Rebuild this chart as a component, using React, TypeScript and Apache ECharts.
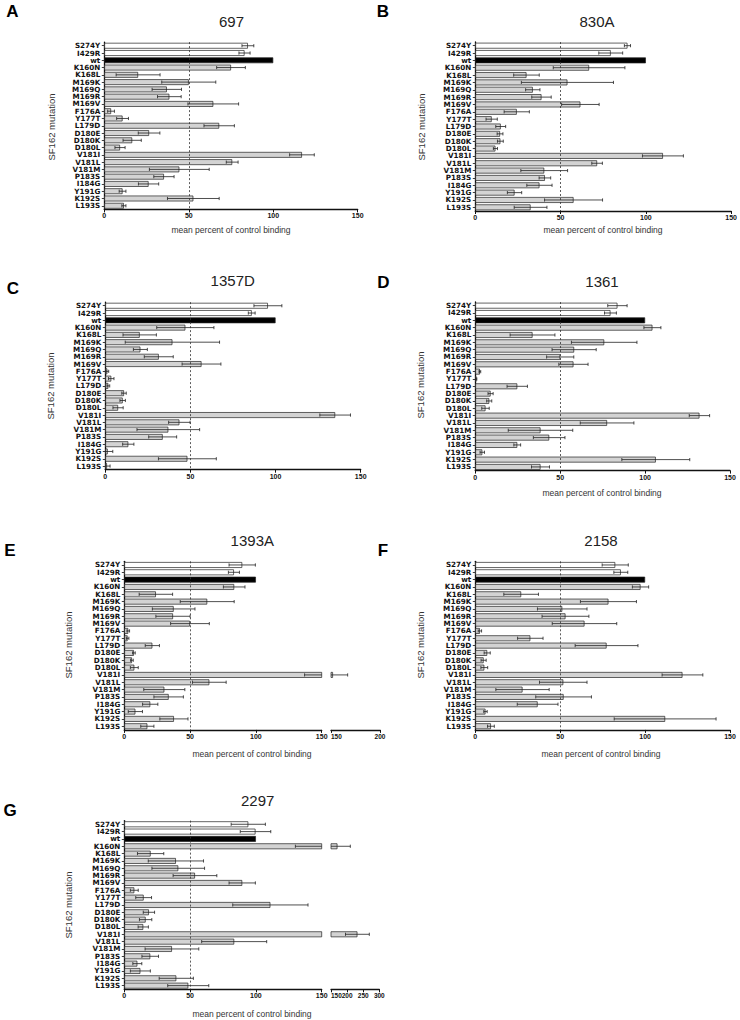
import React, { useEffect, useRef } from "react";
import * as echarts from "echarts";

const categories = [
  "S274Y", "I429R", "wt", "K160N", "K168L", "M169K", "M169Q", "M169R", "M169V",
  "F176A", "Y177T", "L179D", "D180E", "D180K", "D180L", "V181I", "V181L", "V181M",
  "P183S", "I184G", "Y191G", "K192S", "L193S",
];

const mean697 = [85, 83, 100, 75, 20, 50, 37, 38.5, 64.5, 4, 10.8, 68, 26.5, 16.5, 9.3, 117, 75.7, 44.4, 35.3, 26.2, 10.8, 52.7, 11.6];
const sd697 = [3.5, 3.3, 0, 8.5, 13, 16, 8.7, 7, 15, 2, 3.5, 9, 6.4, 5.4, 3, 7.3, 3.5, 17.7, 6, 6, 2, 15.3, 1.2];

const mean830A = [89.2, 79.4, 100, 66.7, 30, 54, 33.7, 38.8, 61.6, 24.3, 9.6, 14.9, 14.5, 14.7, 11.8, 110, 71.4, 40.4, 40.8, 37.6, 23, 57.6, 32.4];
const sd830A = [1.8, 7, 0, 21, 7.5, 27, 4.2, 5.7, 11, 7.4, 3.3, 2.9, 1.7, 1.7, 1.2, 12, 3.1, 13.7, 3.4, 7.4, 4.2, 17, 9.6];

const mean1357D = [95.5, 86, 100, 47, 20.2, 39.4, 20.6, 31.4, 56.5, 1.2, 3.5, 1.8, 11, 10.2, 7.5, 135, 43.5, 37, 33.7, 13.5, 1.4, 48.2, 1];
const sd1357D = [8.2, 2, 0, 16.8, 9.8, 27.7, 4.1, 8.5, 11.4, 0.8, 1.6, 0.8, 1.3, 1.6, 3, 9, 6.3, 18.4, 8.2, 3.3, 3, 17, 1.8];

const mean1361 = [83.7, 79.6, 100, 104.3, 33.7, 75.9, 58.2, 50, 57.8, 2.7, 0.6, 24.7, 9, 8.2, 6, 132, 77.6, 38.4, 43.5, 24.7, 4.1, 106.3, 38.4];
const sd1361 = [5.7, 3.5, 0, 5, 13.2, 19.3, 13, 8, 8.6, 0.5, 0.3, 6, 1.5, 1.5, 2.2, 6, 15.8, 19, 9.3, 2, 1.3, 20, 5.3];

const mean1393A = [89.6, 83.3, 100, 83.5, 24, 63, 37.5, 37, 49.9, 3, 2.5, 21.3, 7.3, 5.8, 7.6, 152, 64.6, 30.4, 33.7, 19.7, 8.4, 37.7, 17.5];
const sd1393A = [10, 4.2, 0, 8.2, 12.7, 20.5, 16.2, 13, 14.7, 1, 1, 5.4, 1, 1, 3, 15, 12.8, 15.6, 11.2, 5.8, 5.4, 10.7, 5];

const mean2158 = [82.4, 85.7, 100, 97.3, 27, 78.4, 51.2, 53.1, 64.3, 2.7, 32.4, 77.3, 7, 4.9, 5.3, 122, 51.8, 27.8, 52, 36.7, 6, 111.8, 9.2];
const sd2158 = [7.7, 4.1, 0, 4.8, 10.2, 16.5, 14.6, 13.8, 19, 1, 7.5, 18.5, 1.8, 1.5, 2, 12, 14, 15.7, 16.4, 12, 1, 30, 2];

const mean2297 = [94.2, 99.7, 100, 170, 20, 39.2, 41, 53.7, 89.6, 7.6, 14.7, 111, 18.7, 16.2, 14.4, 232, 83.5, 36.2, 19.7, 9.9, 12.2, 39.5, 48.6];
const sd2297 = [13, 11.6, 0, 40, 10, 21, 20, 16.6, 10, 3, 6, 28.6, 4.3, 4.7, 3.9, 37, 24.7, 20.4, 6.3, 3.4, 7.6, 13, 15.6];

const referenceLine = 50;
const xTitle = "mean percent of control binding";
const yTitle = "SF162 mutation";

const FONT = "Liberation Sans";
const LABEL_FONT = "DejaVu Sans";
const INK = "#111";

type Seg = { left: number; width: number; min: number; max: number };
type Panel = {
  title: string; letter: string; mean: number[]; sd: number[];
  top: number; height: number; segs: Seg[];
  titlePos: [number, number]; letterPos: [number, number];
  yNamePos: [number, number]; xNamePos: [number, number] | null;
};

const panels: Panel[] = [
  { title: "697", letter: "A", mean: mean697, sd: sd697, top: 42.1, height: 167.3,
    segs: [{ left: 104.3, width: 253.4, min: 0, max: 150 }],
    titlePos: [231.5, 21.7], letterPos: [12.5, 11], yNamePos: [51.7, 127], xNamePos: [231, 230] },
  { title: "830A", letter: "B", mean: mean830A, sd: sd830A, top: 42, height: 169,
    segs: [{ left: 475.3, width: 256.4, min: 0, max: 150 }],
    titlePos: [597, 21.7], letterPos: [383, 11], yNamePos: [421.7, 127], xNamePos: [603, 230] },
  { title: "1357D", letter: "C", mean: mean1357D, sd: sd1357D, top: 302.1, height: 167.6,
    segs: [{ left: 105.3, width: 255.4, min: 0, max: 150 }],
    titlePos: [232.7, 280], letterPos: [13, 288], yNamePos: [50, 386], xNamePos: null },
  { title: "1361", letter: "D", mean: mean1361, sd: sd1361, top: 302, height: 168.6,
    segs: [{ left: 475.3, width: 254.7, min: 0, max: 150 }],
    titlePos: [602, 281.7], letterPos: [383.5, 282], yNamePos: [420, 385], xNamePos: [602, 493] },
  { title: "1393A", letter: "E", mean: mean1393A, sd: sd1393A, top: 561.3, height: 168.6,
    segs: [{ left: 124.3, width: 197.4, min: 0, max: 150 }, { left: 331, width: 49, min: 150, max: 200 }],
    titlePos: [252.3, 540], letterPos: [10, 550.5], yNamePos: [68.3, 645], xNamePos: [252, 753.7] },
  { title: "2158", letter: "F", mean: mean2158, sd: sd2158, top: 561.3, height: 168.6,
    segs: [{ left: 475.3, width: 254.7, min: 0, max: 150 }],
    titlePos: [601, 540], letterPos: [383, 550.5], yNamePos: [420, 645], xNamePos: [601, 753.7] },
  { title: "2297", letter: "G", mean: mean2297, sd: sd2297, top: 820.6, height: 168.7,
    segs: [{ left: 124.3, width: 197.4, min: 0, max: 150 }, { left: 331, width: 48.3, min: 150, max: 300 }],
    titlePos: [257.7, 800], letterPos: [10, 810.5], yNamePos: [68.3, 905], xNamePos: [252, 1013.7] },
];

function barColor(k: number) {
  if (k < 2) return "#ffffff";
  if (k === 2) return "#000000";
  return "#d3d3d3";
}

function buildOption() {
  const grid: any[] = [];
  const xAxis: any[] = [];
  const yAxis: any[] = [];
  const series: any[] = [];
  const graphic: any[] = [];

  panels.forEach((p) => {
    p.segs.forEach((s, si) => {
      const gi = grid.length;
      grid.push({ left: s.left, top: p.top, width: s.width, height: p.height, containLabel: false });
      xAxis.push({
        gridIndex: gi, type: "value", min: s.min, max: s.max, interval: 50,
        splitLine: { show: false },
        axisLine: { show: true, onZero: false, lineStyle: { color: INK, width: 1.3 } },
        axisTick: { show: true, length: 3, lineStyle: { color: INK, width: 1 } },
        axisLabel: {
          fontSize: si > 0 ? 6.5 : 7, fontWeight: "bold", color: INK, margin: 3, fontFamily: FONT,
          showMinLabel: true, showMaxLabel: true,
          alignMinLabel: si > 0 ? "left" : "center",
        },
      });
      yAxis.push({
        gridIndex: gi, type: "category", data: categories, inverse: true, show: si === 0,
        axisLine: { show: true, onZero: false, lineStyle: { color: INK, width: 1.3 } },
        axisTick: { show: true, alignWithLabel: true, length: 2.5, lineStyle: { color: INK, width: 0.8 } },
        axisLabel: { interval: 0, fontSize: 7.2, lineHeight: 7, fontWeight: "bold", color: INK, margin: 4, fontFamily: LABEL_FONT },
        splitLine: { show: false },
      });
      const bar: any = {
        type: "bar", xAxisIndex: gi, yAxisIndex: gi, barWidth: "80%", clip: true,
        data: p.mean.map((v, k) => ({
          value: v,
          itemStyle: { color: barColor(k), borderColor: "#222", borderWidth: 0.7 },
        })),
        z: 2,
      };
      if (si === 0) {
        bar.markLine = {
          silent: true, symbol: ["none", "none"], label: { show: false },
          lineStyle: { type: [2, 2], color: "#333", width: 0.8 },
          data: [{ xAxis: referenceLine }],
        };
      }
      series.push(bar);
      series.push({
        type: "custom", xAxisIndex: gi, yAxisIndex: gi, z: 3,
        encode: { x: [0, 1], y: 2 },
        data: p.mean.map((v, k) => [v - p.sd[k], v + p.sd[k], k, p.sd[k]]),
        renderItem: (params: any, api: any) => {
          const sdv = api.value(3);
          if (!sdv) return null;
          const lo = api.value(0), hi = api.value(1), idx = api.value(2);
          const a = api.coord([lo, idx]);
          const b = api.coord([hi, idx]);
          const cs = params.coordSys;
          const xmin = cs.x, xmax = cs.x + cs.width;
          const x1 = Math.max(a[0], xmin), x2 = Math.min(b[0], xmax);
          if (x2 <= x1) return null;
          const y = a[1];
          const st = { stroke: "#222", lineWidth: 0.8 };
          const children: any[] = [
            { type: "line", shape: { x1, y1: y, x2, y2: y }, style: st },
          ];
          const ch = 1.6;
          if (a[0] >= xmin - 0.1 && a[0] <= xmax + 0.1)
            children.push({ type: "line", shape: { x1: a[0], y1: y - ch, x2: a[0], y2: y + ch }, style: st });
          if (b[0] >= xmin - 0.1 && b[0] <= xmax + 0.1)
            children.push({ type: "line", shape: { x1: b[0], y1: y - ch, x2: b[0], y2: y + ch }, style: st });
          return { type: "group", children };
        },
      });
    });

    graphic.push({
      type: "text", x: p.titlePos[0], y: p.titlePos[1],
      style: { text: p.title, font: `15px "${FONT}"`, fill: "#222", align: "center", verticalAlign: "middle", textAlign: "center", textVerticalAlign: "middle" },
    });
    graphic.push({
      type: "text", x: p.letterPos[0], y: p.letterPos[1],
      style: { text: p.letter, font: `bold 17px "${FONT}"`, fill: "#000", align: "center", verticalAlign: "middle", textAlign: "center", textVerticalAlign: "middle" },
    });
    graphic.push({
      type: "text", x: p.yNamePos[0], y: p.yNamePos[1], rotation: Math.PI / 2,
      style: { text: yTitle, font: `9.5px "${FONT}"`, fill: "#333", align: "center", verticalAlign: "middle", textAlign: "center", textVerticalAlign: "middle" },
    });
    if (p.xNamePos) {
      graphic.push({
        type: "text", x: p.xNamePos[0], y: p.xNamePos[1],
        style: { text: xTitle, font: `8.5px "${FONT}"`, fill: "#333", align: "center", verticalAlign: "middle", textAlign: "center", textVerticalAlign: "middle" },
      });
    }
  });

  return { animation: false, backgroundColor: "#fff", grid, xAxis, yAxis, series, graphic };
}

export default function App() {
  const ref = useRef<HTMLDivElement>(null);
  useEffect(() => {
    if (!ref.current) return;
    const chart = echarts.init(ref.current, null, { renderer: "svg" });
    chart.setOption(buildOption() as any);
    return () => chart.dispose();
  }, []);
  return (
    <div
      ref={ref}
      style={{ position: "absolute", left: 0, top: 0, width: 740, height: 1020, background: "#fff" }}
    />
  );
}
